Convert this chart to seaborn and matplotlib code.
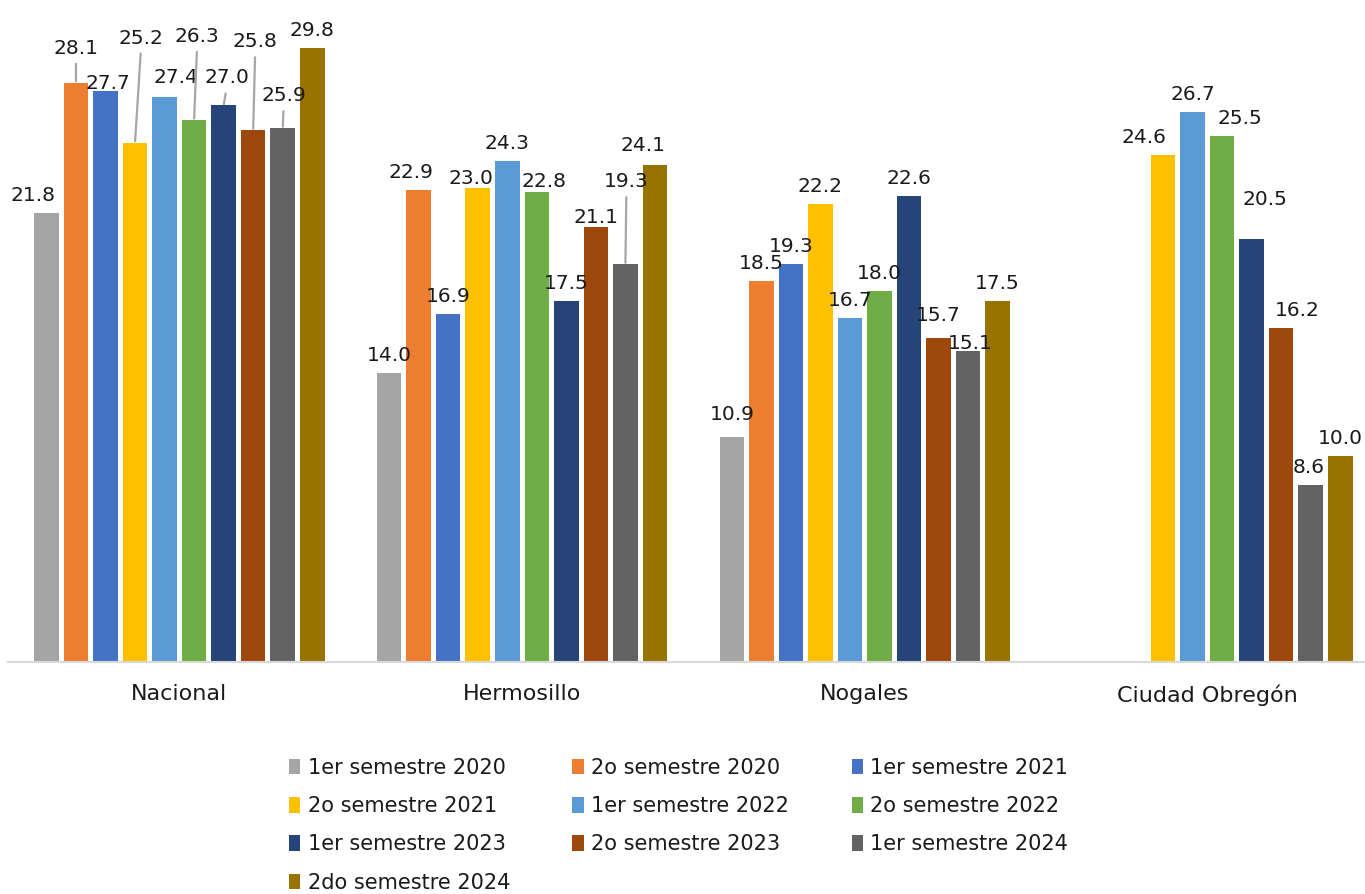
import numpy as np
import pandas as pd
import matplotlib
matplotlib.use("Agg")
import matplotlib.pyplot as plt
import seaborn as sns
from matplotlib.patches import Patch

categories = ["Nacional", "Hermosillo", "Nogales", "Ciudad Obregón"]
series = ["1er semestre 2020", "2o semestre 2020", "1er semestre 2021",
          "2o semestre 2021", "1er semestre 2022", "2o semestre 2022",
          "1er semestre 2023", "2o semestre 2023", "1er semestre 2024",
          "2do semestre 2024"]
s_1er_2020 = [21.8, 14.0, 10.9, np.nan]
s_2o_2020 = [28.1, 22.9, 18.5, np.nan]
s_1er_2021 = [27.7, 16.9, 19.3, np.nan]
s_2o_2021 = [25.2, 23.0, 22.2, 24.6]
s_1er_2022 = [27.4, 24.3, 16.7, 26.7]
s_2o_2022 = [26.3, 22.8, 18.0, 25.5]
s_1er_2023 = [27.0, 17.5, 22.6, 20.5]
s_2o_2023 = [25.8, 21.1, 15.7, 16.2]
s_1er_2024 = [25.9, 19.3, 15.1, 8.6]
s_2do_2024 = [29.8, 24.1, 17.5, 10.0]
all_values = [s_1er_2020, s_2o_2020, s_1er_2021, s_2o_2021, s_1er_2022,
              s_2o_2022, s_1er_2023, s_2o_2023, s_1er_2024, s_2do_2024]
colors = ["#A5A5A5", "#ED7D31", "#4472C4", "#FFC000", "#5B9BD5",
          "#70AD47", "#264478", "#9E480E", "#636363", "#997300"]

# label placement tweaks (pixels): (category, series) -> (dx, dy, leader)
label_tweaks = {
    (0, 0): (-13, 0, False), (0, 1): (0, 17, True), (0, 2): (2, -10, False),
    (0, 3): (6, 87, True), (0, 4): (11, 2, False), (0, 5): (3, 66, True),
    (0, 6): (3, 10, True), (0, 7): (2, 71, True), (0, 8): (1, 15, True),
    (1, 1): (-8, 0, False), (1, 3): (-7, -8, False), (1, 5): (7, -7, False),
    (1, 7): (0, -8, False), (1, 8): (1, 65, True), (1, 9): (-12, 2, False),
    (2, 0): (0, 5, False), (2, 7): (0, 5, False), (2, 8): (2, -10, False),
    (3, 3): (-19, 0, False), (3, 5): (18, 0, False), (3, 6): (13, 22, False),
    (3, 7): (16, 0, False), (3, 8): (-2, 0, False),
}

rows = []
for s, vals in zip(series, all_values):
    for c, v in zip(categories, vals):
        rows.append({"Ciudad": c, "Serie": s, "Valor": v})
df = pd.DataFrame(rows)

sns.set_theme(style="white")
plt.rcParams["font.family"] = ["DejaVu Sans"]

fig = plt.figure(figsize=(13.65, 8.94), dpi=100)
ax = fig.add_axes([8 / 1365, 232 / 894, 1357 / 1365, 639 / 894])

sns.barplot(data=df, x="Ciudad", y="Valor", hue="Serie", order=categories,
            hue_order=series, palette=colors, saturation=1, width=0.862,
            gap=0.17, dodge=True, legend=False, ax=ax, edgecolor="none")

ax.set_ylim(0, 31)
ax.set_xlim(-0.5, 3.46)
for sp in ["top", "left", "right"]:
    ax.spines[sp].set_visible(False)
ax.spines["bottom"].set_color("#D9D9D9")
ax.spines["bottom"].set_linewidth(1.5)
ax.set_yticks([])
ax.set_xlabel("")
ax.set_ylabel("")
ax.tick_params(axis="x", length=0, pad=16, labelsize=16, labelcolor="#1a1a1a")

for si, cont in enumerate(ax.containers):
    for bar in cont:
        h = bar.get_height()
        if h is None or np.isnan(h) or h == 0:
            continue
        xc = bar.get_x() + bar.get_width() / 2
        ci = int(round(xc))
        dx, dy, leader = label_tweaks.get((ci, si), (0, 0, False))
        kw = {}
        if leader:
            kw["arrowprops"] = dict(arrowstyle="-", color="#A6A6A6", lw=1.6,
                                    shrinkA=2, shrinkB=1, relpos=(0.5, 0))
        ax.annotate(f"{h:.1f}", xy=(xc, h), xytext=(dx, 8 + dy),
                    textcoords="offset pixels", ha="center", va="bottom",
                    fontsize=14.5, color="#1a1a1a", **kw)

order = [0, 3, 6, 9, 1, 4, 7, 2, 5, 8]
handles = [Patch(facecolor=colors[i], edgecolor="none") for i in order]
labels = [series[i] for i in order]
fig.legend(handles, labels, ncol=3, loc="upper left",
           bbox_to_anchor=(270 / 1365, 1 - 739 / 894), frameon=False,
           fontsize=15, handlelength=0.55, handleheight=0.8,
           handletextpad=0.35, columnspacing=3.0, labelspacing=0.88,
           labelcolor="#1a1a1a")

fig.savefig("out.png", dpi=100)
